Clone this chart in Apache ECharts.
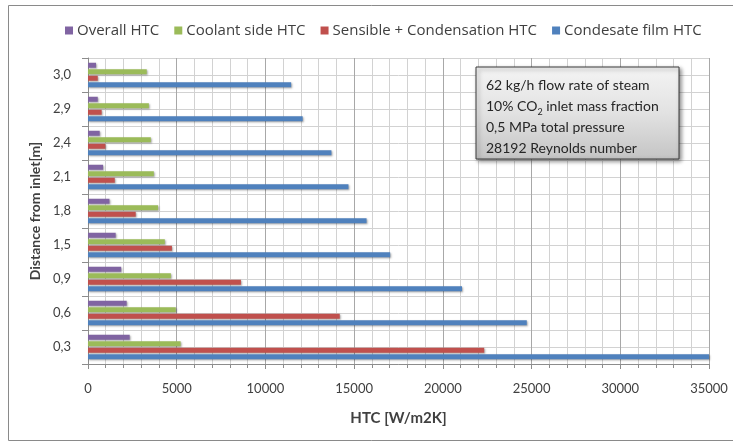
<!DOCTYPE html>
<html>
<head>
<meta charset="utf-8">
<script src="https://cdn.jsdelivr.net/npm/echarts@6/dist/echarts.min.js"></script>
<style>
  html, body { margin: 0; padding: 0; background: #fff; }
  #chart { width: 733px; height: 442px; }
</style>
</head>
<body>
<div id="chart"></div>
<script>
// Distance from inlet (bottom to top on the category axis)
const distances = ['0,3', '0,6', '0,9', '1,5', '1,8', '2,1', '2,4', '2,9', '3,0'];

// Heat transfer coefficients, W/m2K, per distance
const overallHTC      = [2350, 2180, 1870, 1560, 1210, 850, 660, 550, 450];
const coolantHTC      = [5220, 4950, 4670, 4330, 3950, 3710, 3540, 3430, 3310];
const sensibleCondHTC = [22330, 14190, 8620, 4730, 2690, 1510, 980, 770, 550];
const condensateHTC   = [35000, 24730, 21080, 17030, 15700, 14680, 13720, 12100, 11450];

const seriesNames = ['Overall HTC', 'Coolant side HTC', 'Sensible + Condensation HTC', 'Condesate film HTC'];
const xTicks = [0, 5000, 10000, 15000, 20000, 25000, 30000, 35000];

const FONT = 'Lato, "Open Sans", sans-serif';
const TEXT = '#404040';

const chart = echarts.init(document.getElementById('chart'), null, { renderer: 'canvas' });

function barSeries(name, data, color) {
  return {
    name: name,
    type: 'bar',
    data: data,
    barWidth: 5,
    barGap: '30%',
    barCategoryGap: '20%',
    itemStyle: {
      color: color,
      shadowColor: 'rgba(0,0,0,0.35)',
      shadowBlur: 2,
      shadowOffsetX: 1,
      shadowOffsetY: 1
    }
  };
}

chart.setOption({
  animation: false,
  textStyle: { fontFamily: FONT, color: TEXT },
  legend: {
    data: seriesNames,
    top: 18,
    left: 60,
    icon: 'rect',
    itemWidth: 8,
    itemHeight: 8,
    itemGap: 15,
    textStyle: { fontFamily: '"Open Sans", sans-serif', fontSize: 15, color: TEXT, padding: [0, 0, 0, -1] }
  },
  grid: { left: 88, right: 24, top: 58, bottom: 78 },
  xAxis: {
    type: 'value',
    min: xTicks[0],
    max: xTicks[xTicks.length - 1],
    interval: 5000,
    name: 'HTC [W/m2K]',
    nameLocation: 'middle',
    nameGap: 47,
    nameTextStyle: { fontFamily: FONT, fontSize: 15, fontWeight: 'bold', color: TEXT },
    axisLine: { show: true, lineStyle: { color: '#8c8c8c', width: 1 } },
    axisTick: { show: true, length: 5, lineStyle: { color: '#8c8c8c' } },
    minorTick: { show: true, splitNumber: 5, length: 4, lineStyle: { color: '#8c8c8c' } },
    axisLabel: { fontFamily: FONT, fontSize: 13, color: TEXT, margin: 18, formatter: v => String(v) },
    splitLine: { show: true, lineStyle: { color: '#a8a8a8', width: 1 } },
    minorSplitLine: { show: true, lineStyle: { color: '#d2d2d2', width: 1 } }
  },
  yAxis: [
    {
      type: 'category',
      data: distances,
      name: 'Distance from inlet[m]',
      nameLocation: 'middle',
      nameRotate: 90,
      nameGap: 45,
      nameTextStyle: { fontFamily: FONT, fontSize: 14, fontWeight: 'bold', color: TEXT },
      axisLine: { show: true, lineStyle: { color: '#8c8c8c' } },
      axisTick: { show: true, length: 6, lineStyle: { color: '#8c8c8c' } },
      axisLabel: { fontFamily: FONT, fontSize: 13, color: TEXT, margin: 17 },
      splitLine: { show: true, lineStyle: { color: '#b4b4b4' } }
    },
    {
      // helper axis for the half-category horizontal grid lines
      type: 'value',
      min: 0,
      max: distances.length,
      interval: 0.5,
      position: 'left',
      axisLine: { show: false },
      axisTick: { show: false },
      axisLabel: { show: false },
      splitLine: { show: true, lineStyle: { color: '#d2d2d2' } },
      z: 0
    }
  ],
  series: [
    barSeries(seriesNames[0], overallHTC, '#8064a2'),
    barSeries(seriesNames[1], coolantHTC, '#9bbb59'),
    barSeries(seriesNames[2], sensibleCondHTC, '#c0504d'),
    barSeries(seriesNames[3], condensateHTC, '#4f81bd')
  ],
  graphic: [
    {
      type: 'rect',
      shape: { x: 8.5, y: 5.5, width: 740, height: 435 },
      style: { fill: 'none', stroke: '#8a8a8a', lineWidth: 1 },
      silent: true,
      z: -10
    },
    {
      type: 'rect',
      x: 476,
      y: 67,
      z: 100,
      zlevel: 1,
      shape: { x: 0, y: 0, width: 203, height: 92 },
      style: {
        fill: new echarts.graphic.LinearGradient(0, 0, 0, 1, [
          { offset: 0, color: '#f4f4f4' },
          { offset: 0.5, color: '#e2e2e2' },
          { offset: 1, color: '#c4c4c4' }
        ]),
        stroke: '#3c3c3c',
        lineWidth: 1,
        shadowColor: 'rgba(0,0,0,0.45)',
        shadowBlur: 4,
        shadowOffsetX: 2,
        shadowOffsetY: 2
      }
    },
    {
      type: 'text',
      x: 486,
      y: 75,
      z: 101,
      zlevel: 1,
      style: {
        text: '62 kg/h flow rate of steam\n10% CO{sub|2} inlet mass fraction\n0,5 MPa total pressure\n28192 Reynolds number',
        font: '14px ' + FONT,
        fill: '#262626',
        lineHeight: 21,
        rich: {
          sub: { fontSize: 9, verticalAlign: 'bottom', padding: [6, 0, 0, 0], fill: '#262626', fontFamily: FONT }
        }
      }
    }
  ]
});
</script>
</body>
</html>
